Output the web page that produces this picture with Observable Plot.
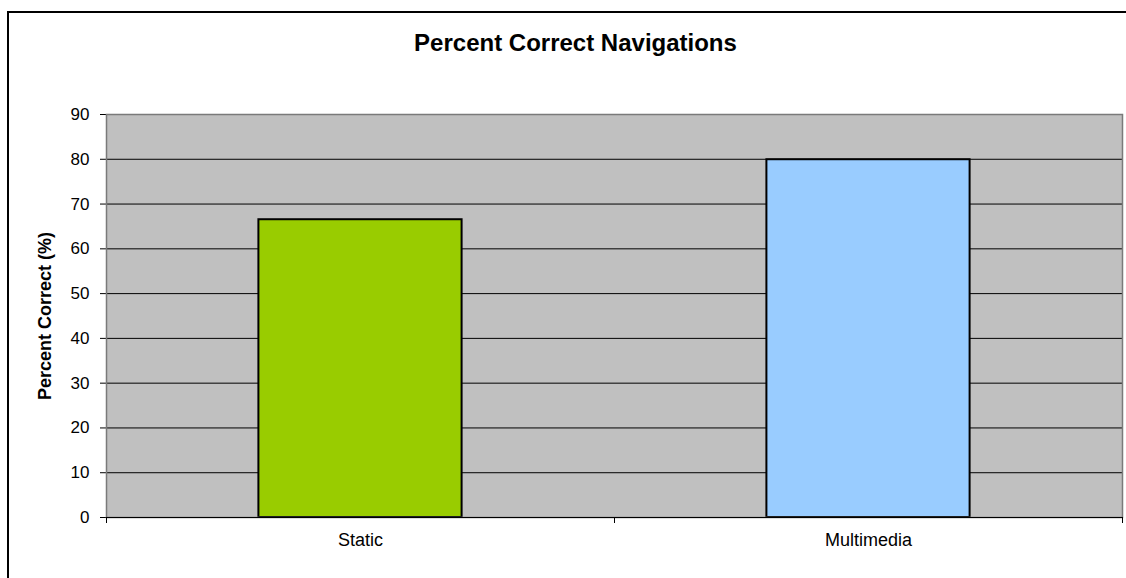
<!DOCTYPE html>
<html><head><meta charset="utf-8">
<script src="https://cdn.jsdelivr.net/npm/d3@7"></script>
<script src="https://cdn.jsdelivr.net/npm/@observablehq/plot@0.6"></script>
<style>
body{margin:0;background:#fff;font-family:"Liberation Sans",Arial,sans-serif;}
#wrap{position:relative;width:1126px;height:578px;overflow:hidden;background:#fff;}
#frame{position:absolute;left:7px;top:11px;width:1300px;height:800px;border-top:2px solid #000;border-left:2px solid #000;}
#title{position:absolute;left:0;width:1151px;top:31px;text-align:center;font-weight:bold;font-size:24px;line-height:24px;color:#000;}
#chart{position:absolute;left:0;top:0;}
</style></head><body>
<div id="wrap"><div id="frame"></div><div id="title"></div><div id="chart"></div></div>
<script>
const titleText = "Percent Correct Navigations";
const yLabel = "Percent Correct (%)";
const categories = ["Static", "Multimedia"];
const values = [66.5, 79.9];
const barColors = ["#99CC00", "#99CCFF"];
const yTicks = [0, 10, 20, 30, 40, 50, 60, 70, 80, 90];

document.getElementById("title").textContent = titleText;

const rows = categories.map((c, i) => ({category: c, pos: i + 0.5, value: values[i]}));
const bounds = d3.range(categories.length + 1);
const half = 0.2;

const chart = Plot.plot({
  width: 1126,
  height: 578,
  marginLeft: 106,
  marginRight: 4,
  marginTop: 114,
  marginBottom: 61,
  style: {fontFamily: '"Liberation Sans", Arial, sans-serif', fontSize: "17px", color: "#000", background: "transparent"},
  x: {domain: [0, categories.length], axis: null},
  y: {domain: [0, 90], ticks: yTicks, tickSize: 6, tickPadding: 11, label: null, tickFormat: d => String(d)},
  color: {domain: categories, range: barColors},
  marks: [
    Plot.frame({fill: "#C0C0C0", stroke: null}),
    Plot.ruleY(yTicks.filter(v => v > 0 && v < 90), {stroke: "#000", strokeWidth: 1}),
    Plot.rectY(rows, {x1: d => d.pos - half, x2: d => d.pos + half, y1: 0, y2: "value", fill: "category", stroke: "#000", strokeWidth: 2}),
    Plot.frame({stroke: "#7a7a7a", strokeWidth: 1.5}),
    Plot.ruleY([0], {stroke: "#000", strokeWidth: 1.2}),
    Plot.ruleX(bounds, {y1: 0, y2: 0, insetBottom: -6, stroke: "#000"}),
    Plot.text(rows, {x: "pos", text: "category", frameAnchor: "bottom", dy: 28, fontSize: 18, fill: "#000"}),
    Plot.text([yLabel], {frameAnchor: "left", rotate: -90, dx: -61, textAnchor: "middle", fontWeight: "bold", fontSize: 18, fill: "#000"})
  ]
});
document.getElementById("chart").appendChild(chart);
</script>
</body></html>
